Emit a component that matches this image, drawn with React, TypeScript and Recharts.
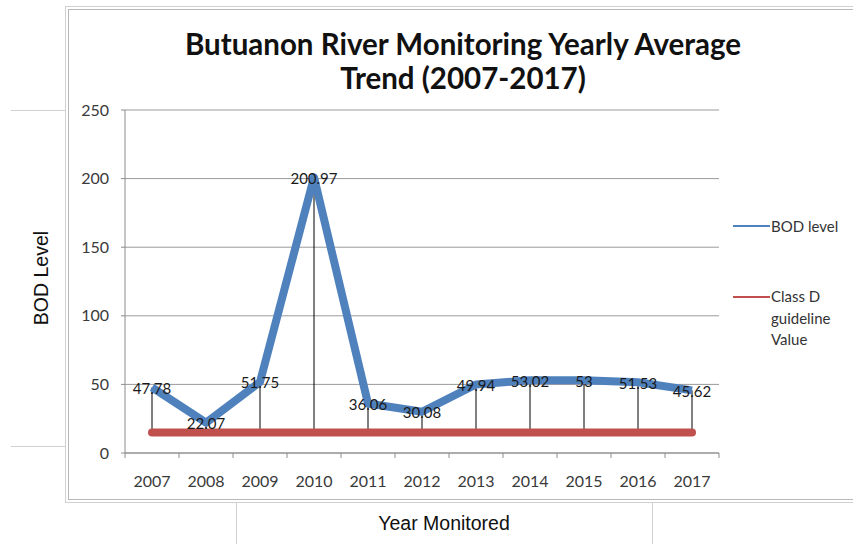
import React from 'react';
import { LineChart, Line, XAxis, YAxis, CartesianGrid, Legend, ErrorBar, LabelList } from 'recharts';

const years = ['2007', '2008', '2009', '2010', '2011', '2012', '2013', '2014', '2015', '2016', '2017'];
const bodLevel = [47.78, 22.07, 51.75, 200.97, 36.06, 30.08, 49.94, 53.02, 53, 51.53, 45.62];
const guideline = [15, 15, 15, 15, 15, 15, 15, 15, 15, 15, 15];
const yTicks = [0, 50, 100, 150, 200, 250];

const data = years.map((year, i) => ({
  year,
  bod: bodLevel[i],
  guide: guideline[i],
  hl: [bodLevel[i] - guideline[i], 0],
}));

const FONT = 'Lato, "Open Sans", sans-serif';
const BLUE = '#4F81BD';
const RED = '#C0504D';

const XTick = (props: any) => {
  const { x, y, payload, index, visibleTicksCount } = props;
  const off = payload && payload.offset ? payload.offset : 0;
  const last = index === visibleTicksCount - 1;
  return (
    <g>
      <line x1={x - off} x2={x - off} y1={y} y2={y + 5} stroke="#8c8c8c" strokeWidth={1} />
      {last ? <line x1={x + off} x2={x + off} y1={y} y2={y + 5} stroke="#8c8c8c" strokeWidth={1} /> : null}
      <text x={x} y={y + 34} textAnchor="middle" fontFamily={FONT} fontSize={16} fill="#3a3a3a">
        {payload.value}
      </text>
    </g>
  );
};

const renderLabel = (props: any) => {
  const { x, y, value } = props;
  return (
    <text x={x} y={y + 1} dy="0.36em" textAnchor="middle" fontFamily={FONT} fontSize={15} fill="#1a1a1a">
      {value}
    </text>
  );
};

const renderLegend = () => (
  <div style={{ position: 'relative', width: 120, height: 150, fontFamily: FONT, fontSize: 15, color: '#333' }}>
    <div style={{ position: 'absolute', left: 0, top: 25, width: 37, height: 2, background: BLUE }} />
    <div style={{ position: 'absolute', left: 38, top: 16, lineHeight: '20px', whiteSpace: 'nowrap' }}>BOD level</div>
    <div style={{ position: 'absolute', left: 0, top: 96, width: 37, height: 2, background: RED }} />
    <div style={{ position: 'absolute', left: 38, top: 86, lineHeight: '21.5px', width: 75 }}>Class D guideline Value</div>
  </div>
);

export default function App() {
  return (
    <div style={{ position: 'absolute', left: 0, top: 0, width: 853, height: 544, background: '#fff', overflow: 'hidden' }}>
      {/* frame */}
      <div style={{ position: 'absolute', left: 65, top: 6, width: 800, height: 497, border: '1px solid #d0d0d0', boxSizing: 'border-box' }} />
      <div style={{ position: 'absolute', left: 68, top: 9, width: 800, height: 491, border: '1px solid #b8b8b8', boxSizing: 'border-box' }} />
      <div style={{ position: 'absolute', left: 11, top: 110, width: 54, height: 1, background: '#d0d0d0' }} />
      <div style={{ position: 'absolute', left: 11, top: 446, width: 54, height: 1, background: '#d0d0d0' }} />
      <div style={{ position: 'absolute', left: 236, top: 503, width: 1, height: 41, background: '#d0d0d0' }} />
      <div style={{ position: 'absolute', left: 652, top: 503, width: 1, height: 41, background: '#d0d0d0' }} />
      {/* title */}
      <div style={{ position: 'absolute', left: 0, top: 27, width: 926, textAlign: 'center', fontFamily: FONT, fontWeight: 700, fontSize: 29.5, lineHeight: '34px', color: '#111' }}>
        Butuanon River Monitoring Yearly Average<br />Trend (2007-2017)
      </div>
      {/* axis titles */}
      <div style={{ position: 'absolute', left: 41, top: 278, width: 0, height: 0 }}>
        <div style={{ position: 'absolute', left: -60, top: -12, width: 120, textAlign: 'center', transform: 'rotate(-90deg)', fontFamily: '"Liberation Sans", Arial, sans-serif', fontSize: 19.5, lineHeight: '24px', color: '#111' }}>BOD Level</div>
      </div>
      <div style={{ position: 'absolute', left: 344, top: 511, width: 200, textAlign: 'center', fontFamily: '"Liberation Sans", Arial, sans-serif', fontSize: 19.5, lineHeight: '24px', color: '#111' }}>Year Monitored</div>
      <div style={{ position: 'absolute', left: 0, top: 0 }}>
        <LineChart width={853} height={544} data={data} margin={{ top: 110, right: 134, bottom: 51, left: 65 }}>
          <CartesianGrid vertical={false} stroke="#9a9a9a" strokeWidth={1} />
          <XAxis
            dataKey="year"
            scale="band"
            height={40}
            tickSize={0}
            tickMargin={0}
            tickLine={false}
            tick={<XTick />}
            interval={0}
            axisLine={{ stroke: '#8c8c8c' }}
          />
          <YAxis
            width={60}
            domain={[0, 250]}
            ticks={yTicks}
            interval={0}
            tickSize={4}
            tickMargin={12}
            tickLine={{ stroke: '#8c8c8c' }}
            axisLine={{ stroke: '#8c8c8c' }}
            tick={{ fontFamily: FONT, fontSize: 16, fill: '#3a3a3a' }}
          />
          <Legend layout="horizontal" verticalAlign="middle" align="center" wrapperStyle={{ left: 733, top: 200, width: 120, height: 150 }} content={renderLegend} />
          <Line
            dataKey="bod"
            name="BOD level"
            type="linear"
            stroke={BLUE}
            strokeWidth={8}
            strokeLinejoin="round"
            dot={false}
            activeDot={false}
            isAnimationActive={false}
          >
            <ErrorBar dataKey="hl" direction="y" width={0} stroke="#000" strokeWidth={1} isAnimationActive={false} />
            <LabelList dataKey="bod" content={renderLabel} />
          </Line>
          <Line
            dataKey="guide"
            name="Class D guideline Value"
            type="linear"
            stroke={RED}
            strokeWidth={8}
            strokeLinecap="round"
            dot={false}
            activeDot={false}
            isAnimationActive={false}
          />
        </LineChart>
      </div>
    </div>
  );
}
